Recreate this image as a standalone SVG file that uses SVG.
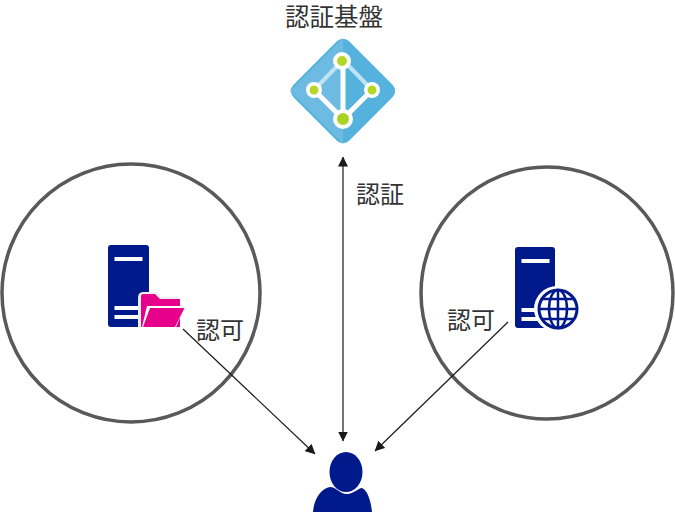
<svg xmlns="http://www.w3.org/2000/svg" width="675" height="512" viewBox="0 0 675 512">
<style>
.t{font-family:"Noto Sans CJK JP","Noto Sans",sans-serif;font-size:24px;fill:#333;font-weight:400}
.c{fill:none;stroke:#595959;stroke-width:3.5}
.l{stroke:#1a1a1a;stroke-width:1.2;fill:none}
.n{fill:#001a8c}
.w{fill:#fff}
</style>
<defs>
<marker id="a" viewBox="0 0 10 10" refX="9.5" refY="5" markerWidth="10" markerHeight="10" markerUnits="userSpaceOnUse" orient="auto-start-reverse"><path d="M0 0L10 5L0 10z" fill="#1a1a1a"/></marker>
</defs>
<rect width="675" height="512" fill="#fff"/>
<g id="left-zone"><circle class="c" cx="131" cy="293" r="129"/></g>
<g id="right-zone"><circle class="c" cx="547" cy="293" r="126"/></g>
<g id="connectors">
<path class="l" d="M343 157V441" marker-start="url(#a)" marker-end="url(#a)"/>
<path class="l" d="M183 329L315 454" marker-end="url(#a)"/>
<path class="l" d="M508 322L375 451" marker-end="url(#a)"/>
</g>
<g id="auth">
<text class="t" x="334" y="26" text-anchor="middle" style="font-size:24.500px">認証基盤</text>
<rect x="303.500" y="51.500" width="79" height="79" rx="9" transform="rotate(45 343 91)" fill="#55b2dc"/>
<path d="M343 38L290 91L343 144Z" fill="#6dbbe2"/>
<path d="M343 60L372 90M343 60L314 90" stroke="#bfe3f2" stroke-width="4" fill="none"/>
<path d="M343 60V119M314 90L343 119L372 90" stroke="#fff" stroke-width="5" fill="none"/>
<circle class="w" cx="342" cy="61" r="9"/><circle cx="342" cy="61" r="5" fill="#b5d828"/>
<circle class="w" cx="314" cy="90" r="8"/><circle cx="314" cy="90" r="4.500" fill="#b5d828"/>
<circle class="w" cx="372" cy="90" r="8"/><circle cx="372" cy="90" r="4.500" fill="#b5d828"/>
<circle class="w" cx="343" cy="119" r="10"/><circle cx="343" cy="119" r="6" fill="#a9d320"/>
</g>
<g id="auth-label"><text class="t" x="380" y="203" text-anchor="middle">認証</text></g>
<g id="file-server">
<rect class="n" x="108" y="245" width="41" height="82" rx="3"/>
<rect class="w" x="114.500" y="257" width="28" height="4"/>
<rect class="w" x="114.500" y="306" width="28" height="4"/>
<rect class="w" x="114.500" y="315" width="28" height="4"/>
<path d="M138 298Q138 292 143 292H156L161 297H178V327H138Z" fill="#eee"/>
<path d="M141 296Q141 294 144 294H155L160 299H180V327H141Z" fill="#e6008c"/>
<path d="M147 306H185L176 327H142Z" fill="#fff"/>
<path d="M150 308H184.500L175 327H143Z" fill="#e6008c"/>
</g>
<g id="file-label"><text class="t" x="220" y="339" text-anchor="middle">認可</text></g>
<g id="web-server">
<rect class="n" x="515" y="247" width="40" height="81" rx="3"/>
<rect class="w" x="521.500" y="259" width="28" height="4"/>
<rect class="w" x="521.500" y="308" width="28" height="4"/>
<rect class="w" x="521.500" y="317" width="28" height="4"/>
<circle class="w" cx="557" cy="309" r="23"/>
<circle cx="558" cy="309" r="19" fill="none" stroke="#001a8c" stroke-width="3"/>
<ellipse cx="558" cy="309" rx="9" ry="19" fill="none" stroke="#001a8c" stroke-width="2.500"/>
<path d="M558 290V328M539 309H577M542 299H574M542 319H574" stroke="#001a8c" stroke-width="2.500" fill="none"/>
</g>
<g id="web-label"><text class="t" x="471" y="329" text-anchor="middle">認可</text></g>
<g id="user">
<ellipse class="n" cx="346" cy="472" rx="16.500" ry="20"/>
<path class="n" d="M313 512C314 498 322 488 330 487C336 487 340 494 347 494C354 494 358 488 362 488C367 490 371 500 372 512Z"/>
</g>
</svg>
